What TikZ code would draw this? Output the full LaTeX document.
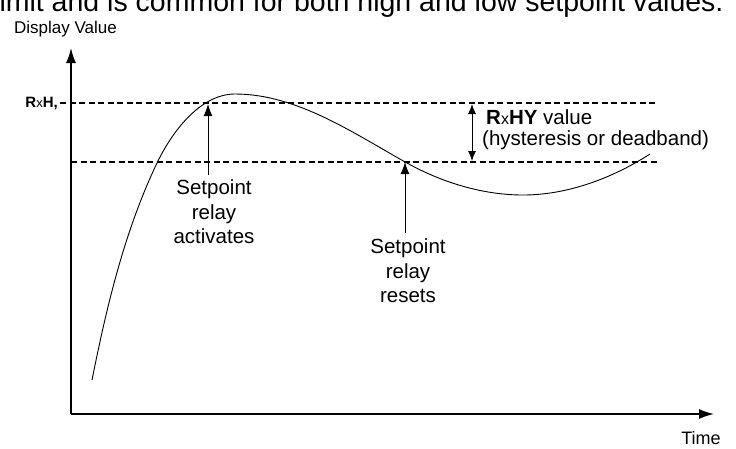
\documentclass[tikz,border=0pt]{standalone}
\usepackage{fontspec}
\setmainfont{Liberation Sans}
\usetikzlibrary{arrows.meta}
\begin{document}
\begin{tikzpicture}[x=1pt,y=-1pt,
  axis/.style={line width=1.5pt,-{Latex[length=15pt,width=10pt]}},
  lvl/.style={dash pattern=on 6pt off 3.5pt,line width=1.2pt},
  pointer/.style={line width=1pt,-{Latex[length=12pt,width=9pt]}},
  lbl/.style={font=\fontsize{20.5}{24.5}\selectfont,align=center,inner sep=0pt},
  seg/.style={font=\fontsize{15}{17}\selectfont\bfseries,inner sep=0pt}]
\useasboundingbox (0,0) rectangle (736,448);
\clip (0,0) rectangle (736,448);
\node[anchor=base west,inner sep=0pt,font=\fontsize{28.5}{30}\selectfont] (top) at (-7,11) {limit and is common for both high and low setpoint values.};
\node[anchor=west,inner sep=0pt,font=\fontsize{17}{19}\selectfont] (ylab) at (14,29) {Display Value};
\coordinate (origin) at (71,414);
\coordinate (ytip) at (71,48);
\coordinate (xtip) at (714,414);
\draw[axis] (origin) -- (ytip);
\draw[axis] (origin) -- (xtip);
\node[anchor=north,inner sep=0pt,font=\fontsize{18}{20}\selectfont] (xlab) at (701,431) {Time};
% levels
\coordinate (h1) at (60,103);
\coordinate (h2) at (657,103);
\coordinate (l1) at (71,162);
\coordinate (l2) at (657,162);
\draw[lvl] (h1) -- (h2);
\draw[lvl] (l1) -- (l2);
\node[seg,anchor=east] (rxh) at (58,103) {R\textmd{\fontsize{13}{15}\selectfont x}H,};
% curve
\draw[line width=0.9pt] (92,380) .. controls (106.8,306) and (124.5,231.1) .. (157,163)
  .. controls (172,131.7) and (200.3,94) .. (235,94)
  .. controls (296.8,94) and (353,132.9) .. (407,163)
  .. controls (442,182.5) and (483,195) .. (523,195)
  .. controls (567.5,195) and (612.6,178.1) .. (650,154);
% hysteresis arrow
\coordinate (hy1) at (472,104);
\coordinate (hy2) at (472,161);
\draw[line width=1pt,{Latex[length=10pt,width=8pt]}-{Latex[length=10pt,width=8pt]}] (hy1) -- (hy2);
\node[lbl,anchor=west] (hyv) at (486,117) {\textbf{R}{\fontsize{16}{18}\selectfont x}\textbf{HY} value};
\node[lbl,anchor=west] (hyd) at (482,140) {(hysteresis or deadband)};
% activation
\node[lbl] (act) at (214,212) {Setpoint\\relay\\activates};
\coordinate (actp) at (208,104);
\draw[pointer] (act.north -| actp) ++(0,-5) -- (actp);
% reset
\node[lbl] (rst) at (408,271) {Setpoint\\relay\\resets};
\coordinate (rstp) at (405,162);
\draw[pointer] (rst.north -| rstp) ++(0,-6) -- (rstp);
\end{tikzpicture}
\end{document}
